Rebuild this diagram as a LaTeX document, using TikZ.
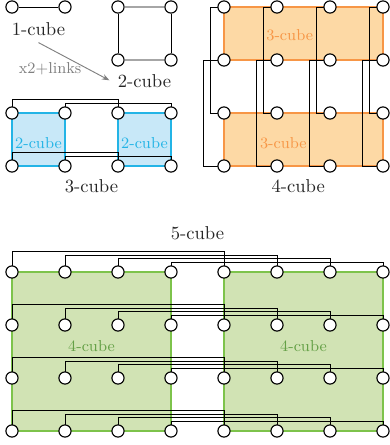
\documentclass[tikz,border=0pt]{standalone}
\usetikzlibrary{arrows.meta}
\definecolor{cubeblue}{RGB}{35,180,230}
\definecolor{cubebluefill}{RGB}{200,232,248}
\definecolor{cubeorange}{RGB}{247,150,70}
\definecolor{cubeorangefill}{RGB}{253,217,165}
\definecolor{cubegreen}{RGB}{125,195,75}
\definecolor{cubegreenfill}{RGB}{209,227,180}
\definecolor{cubegreentext}{RGB}{100,160,70}
\pgfdeclarelayer{sfondo}
\pgfsetlayers{sfondo,main}

\begin{document}
\begin{tikzpicture}[line width=0.6pt,
             main/.style = {draw, circle, fill=white, minimum size=0.23cm, inner sep=0pt},
             lab/.style = {text=black!85},
             sub/.style = {font=\fontsize{8.5}{10}\selectfont},
             box/.style = {line width=0.9pt}]
            \useasboundingbox (-0.226,0.132) rectangle (7.132,-8.264);

            % Nodi 1-cube
            \node[main] (a0) at (0,0) {};
            \node[main] (a1) at (1,0) {};
            \node[lab] (l1) at (0.5,-0.42) {1-cube};

            % Nodi 2-cube
            \foreach \i in {0,1}
              \foreach \j in {0,1}
                \node[main] (b\i\j) at (2+\i,-\j) {};
            \node[lab] (l2) at (2.5,-1.40) {2-cube};
            \node[sub, text=gray] (x2) at (0.72,-1.17) {x2+links};
            \draw[gray, line width=0.5pt, -{Stealth[length=4pt]}, shorten >=1pt] (l1.south) -- (l2.west);

            % Nodi 3-cube
            \foreach \i in {0,...,3}
              \foreach \j in {0,1}
                \node[main] (c\i\j) at (\i,-2-\j) {};
            \node[sub, text=cubeblue] (c2a) at (0.5,-2.56) {2-cube};
            \node[sub, text=cubeblue] (c2b) at (2.5,-2.56) {2-cube};
            \node[lab] (l3) at (1.5,-3.38) {3-cube};

            % Nodi 4-cube
            \foreach \i in {0,...,3}
              \foreach \j in {0,...,3}
                \node[main] (d\i\j) at (4+\i,-\j) {};
            \node[sub, text=cubeorange] (d3a) at (5.24,-0.54) {3-cube};
            \node[sub, text=cubeorange] (d3b) at (5.12,-2.56) {3-cube};
            \node[lab] (l4) at (5.4,-3.38) {4-cube};

            % Nodi 5-cube
            \foreach \i in {0,...,7}
              \foreach \j in {0,...,3}
                \node[main] (e\i\j) at (\i,-5-\j) {};
            \node[sub, text=cubegreentext] (e4a) at (1.5,-6.40) {4-cube};
            \node[sub, text=cubegreentext] (e4b) at (5.5,-6.40) {4-cube};
            \node[lab] (l5) at (3.5,-4.26) {5-cube};

            \begin{pgfonlayer}{sfondo}
            % Sotto-cubi
            \filldraw[box, draw=cubeblue, fill=cubebluefill] (c00.center) rectangle (c11.center);
            \filldraw[box, draw=cubeblue, fill=cubebluefill] (c20.center) rectangle (c31.center);
            \filldraw[box, draw=cubeorange, fill=cubeorangefill] (d00.center) rectangle (d31.center);
            \filldraw[box, draw=cubeorange, fill=cubeorangefill] (d02.center) rectangle (d33.center);
            \filldraw[box, draw=cubegreen, fill=cubegreenfill] (e00.center) rectangle (e33.center);
            \filldraw[box, draw=cubegreen, fill=cubegreenfill] (e40.center) rectangle (e73.center);

            % Archi
            \draw (a0) -- (a1);
            \draw (b00) -- (b01);
            \draw (b10) -- (b11);
            \draw[gray!70, line width=1.2pt] (b00) -- (b10);
            \draw[gray!70, line width=1.2pt] (b01) -- (b11);

            \foreach \j in {0,1} {
              \draw (c0\j.center) -- ++(0,0.25) -| (c2\j.center);
              \draw (c1\j.center) -- ++(0,0.19) -| (c3\j.center);
            }

            \foreach \i in {0,...,3} {
              \draw (d\i0.center) -- ++(-0.26,0) |- (d\i2.center);
              \draw (d\i1.center) -- ++(-0.38,0) |- (d\i3.center);
            }

            \foreach \j in {0,...,3}
              \foreach \i/\k/\h in {0/4/0.38, 1/5/0.32, 2/6/0.26, 3/7/0.19}
                \draw (e\i\j.center) -- ++(0,\h) -| (e\k\j.center);
            \end{pgfonlayer}
        \end{tikzpicture}
\end{document}
